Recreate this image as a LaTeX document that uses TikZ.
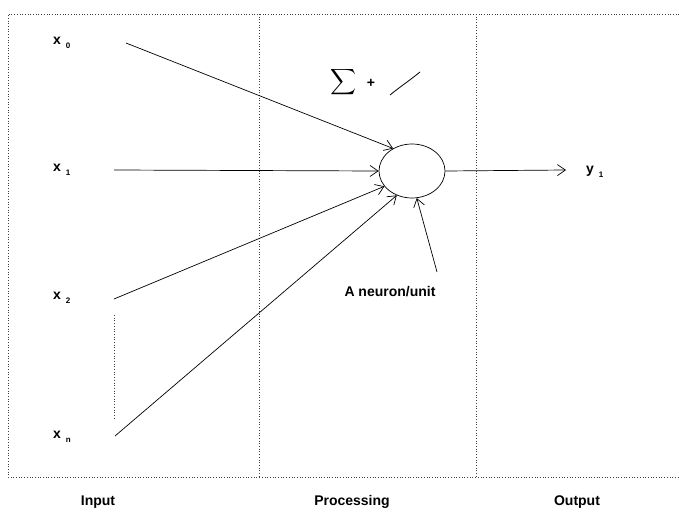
\documentclass[tikz,border=0pt]{standalone}
\usepackage{fontspec}
\setmainfont{Liberation Sans}
\usetikzlibrary{arrows.meta,shapes.geometric}
\newcommand{\xlab}[2]{#1\hspace{5pt}\raisebox{-4pt}{\fontsize{8}{8}\selectfont #2}}
\tikzset{
  lbl/.style     ={font=\fontsize{14}{16}\selectfont\bfseries, inner sep=1pt},
  frame/.style   ={dotted, line width=0.7pt, black!75},
  arr/.style     ={-{Straight Barb[length=8pt,width=11pt]}, line width=0.7pt},
  unitnode/.style={draw, ellipse, minimum width=66pt, minimum height=54pt, inner sep=0pt, line width=0.7pt},
}

\begin{document}
\begin{tikzpicture}[x=1pt,y=-1pt]
  \useasboundingbox (0,0) rectangle (679,513);
  % frame and columns
  \draw[frame] (679,14) -- (8,14) -- (8,477) -- (679,477);
  \draw[frame] (259,14) -- (259,477);
  \draw[frame] (476,14) -- (476,477);

  % inputs
  \node[lbl, anchor=west] (x0) at (52,43)  {\xlab{x}{0}};
  \node[lbl, anchor=west] (x1) at (52,170) {\xlab{x}{1}};
  \node[lbl, anchor=west] (x2) at (52,298) {\xlab{x}{2}};
  \node[lbl, anchor=west] (xn) at (52,437) {\xlab{x}{n}};
  \coordinate (s0) at (126,43);
  \coordinate (s1) at (114,170);
  \coordinate (s2) at (114,299);
  \coordinate (sn) at (115,436);
  \coordinate (d1) at (114,315);
  \coordinate (d2) at (114,418);
  \draw[frame] (d1) -- (d2);

  % the unit
  \node[unitnode] (n) at (412,171) {};
  \foreach \s/\a in {s0/130, s1/180, s2/209, sn/238}
      \draw[arr] (\s) -- (n.\a);
  \node (sum)  at (343,82) {\scalebox{1.8}{$\displaystyle\sum$}};
  \node[lbl] (plus) at (371,83) {+};
  \draw[line width=0.8pt] (390,95) .. controls (401,86) and (409,81) .. (420,72);

  \node[lbl] (unit) at (390,292) {A neuron/unit};
  \coordinate (ustart) at (437,272);
  \draw[arr] (ustart) -- (n.280);

  % output
  \coordinate (yend) at (566,170);
  \draw[arr] (n.east) -- (yend);
  \node[lbl, anchor=west] (y1) at (585,172) {\xlab{y}{1}};

  % column captions
  \node[lbl] (input) at (98,502)  {Input};
  \node[lbl] (proc)  at (352,502) {Processing};
  \node[lbl] (outp)  at (577,502) {Output};
\end{tikzpicture}
\end{document}
